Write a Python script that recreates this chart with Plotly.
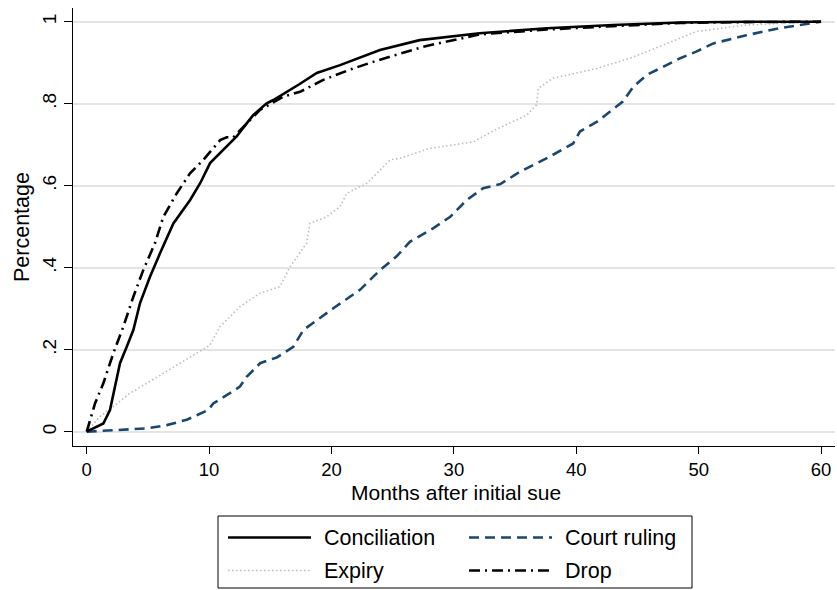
import plotly.graph_objects as go

# Cumulative share of cases closed, by months after the initial suit
conc_months = [0, 1.36, 1.9, 2.31, 2.72, 3.27, 3.81, 4.35, 5.17, 5.99, 6.81, 7.08, 8.45, 9.27,
               10.08, 11.7, 12.25, 13.07, 13.6, 14.7, 15.25, 17.4, 18.8, 20.7, 23.96, 27.2,
               32.1, 37.6, 43.0, 48.5, 53.9, 60]
conc_share = [0, 0.02, 0.053, 0.11, 0.167, 0.207, 0.248, 0.313, 0.378, 0.435, 0.492, 0.508,
              0.565, 0.606, 0.655, 0.703, 0.72, 0.752, 0.772, 0.801, 0.809, 0.848, 0.875,
              0.894, 0.931, 0.955, 0.972, 0.984, 0.992, 0.998, 1.0, 1.0]

court_months = [0, 3.13, 4.9, 6.54, 8.17, 9.93, 10.34, 11.7, 12.52, 13.07, 14.17, 15.52, 16.88,
                17.7, 18.79, 20.15, 22.33, 23.96, 25.3, 26.4, 28.3, 29.7, 31.05, 32.4, 33.8,
                35.4, 37.6, 39.75, 40.3, 41.7, 43.8, 44.66, 45.75, 48.5, 49.8, 51.2, 53.9,
                56.6, 60]
court_share = [0, 0.004, 0.008, 0.016, 0.029, 0.053, 0.069, 0.094, 0.11, 0.134, 0.167, 0.181,
               0.207, 0.248, 0.272, 0.301, 0.346, 0.394, 0.427, 0.463, 0.496, 0.524, 0.565,
               0.594, 0.604, 0.634, 0.667, 0.703, 0.732, 0.756, 0.805, 0.841, 0.87, 0.911,
               0.927, 0.947, 0.967, 0.984, 1.0]

expiry_months = [0, 1.09, 2.17, 3.54, 4.9, 6.26, 7.62, 8.99, 10.07, 10.89, 12.52, 14.17, 15.79,
                 16.61, 17.97, 18.24, 19.6, 20.7, 21.24, 22.9, 24.2, 24.8, 25.6, 28.05, 31.6,
                 33.5, 35.95, 36.76, 36.9, 38.1, 41.7, 44.4, 47.1, 49.8, 53.9, 60]
expiry_share = [0, 0.037, 0.061, 0.094, 0.118, 0.142, 0.167, 0.191, 0.211, 0.256, 0.305, 0.338,
                0.354, 0.402, 0.46, 0.508, 0.524, 0.549, 0.581, 0.606, 0.646, 0.663, 0.667,
                0.691, 0.707, 0.738, 0.772, 0.797, 0.838, 0.862, 0.886, 0.911, 0.943, 0.976,
                0.992, 1.0]

drop_months = [0, 0.27, 0.68, 1.36, 2.17, 2.99, 3.81, 4.62, 5.58, 6.26, 7.35, 8.44, 9.53, 10.9,
               11.44, 11.98, 12.8, 14.16, 16.06, 17.43, 19.33, 21.5, 23.4, 25.3, 27.5, 32.1,
               37.6, 43.0, 48.5, 53.9, 60]
drop_share = [0, 0.028, 0.069, 0.118, 0.191, 0.256, 0.329, 0.394, 0.46, 0.524, 0.581, 0.63,
              0.663, 0.711, 0.718, 0.718, 0.744, 0.785, 0.817, 0.829, 0.858, 0.883, 0.902,
              0.919, 0.939, 0.969, 0.981, 0.989, 0.997, 0.999, 1.0]

series_names = ["Conciliation", "Court ruling", "Expiry", "Drop"]
x_ticks = [0, 10, 20, 30, 40, 50, 60]
y_ticks = [0, 0.2, 0.4, 0.6, 0.8, 1.0]
y_tick_text = ["0", ".2", ".4", ".6", ".8", "1"]

FONT = "Liberation Sans, Arial, Helvetica, sans-serif"
NAVY = "#1a476f"

styles = {
    "Conciliation": dict(color="black", width=2.6, dash="solid"),
    "Court ruling": dict(color=NAVY, width=2.6, dash="10px,6px"),
    "Expiry": dict(color="#bcbcbc", width=1.6, dash="1.5px,2.5px"),
    "Drop": dict(color="black", width=2.6, dash="11px,5px,2px,5px"),
}
data = {
    "Conciliation": (conc_months, conc_share),
    "Court ruling": (court_months, court_share),
    "Expiry": (expiry_months, expiry_share),
    "Drop": (drop_months, drop_share),
}

fig = go.Figure()
for name in ["Expiry", "Court ruling", "Drop", "Conciliation"]:
    xs, ys = data[name]
    fig.add_trace(go.Scatter(x=xs, y=ys, mode="lines", name=name,
                             line=styles[name], showlegend=False, hoverinfo="skip"))

W, H = 837, 590
L, R, T, B = 73, 2, 8, 144
pw, ph = W - L - R, H - T - B


def px_x(x):
    return (x - L) / pw


def px_y(y):
    return (H - B - y) / ph


# Legend drawn below the plot: two columns, long line samples
shapes = [dict(type="rect", xref="paper", yref="paper",
               x0=px_x(218), x1=px_x(692), y0=px_y(588), y1=px_y(516),
               line=dict(color="black", width=1), fillcolor="white")]
annotations = []
slots = {"Conciliation": (228, 537.5), "Court ruling": (469, 537.5),
         "Expiry": (228, 570.5), "Drop": (469, 570.5)}
for name in series_names:
    x0, yy = slots[name]
    st = styles[name]
    shapes.append(dict(type="line", xref="paper", yref="paper",
                       x0=px_x(x0), x1=px_x(x0 + 83), y0=px_y(yy), y1=px_y(yy),
                       line=dict(color=st["color"], width=st["width"], dash=st["dash"])))
    annotations.append(dict(text=name, xref="paper", yref="paper", x=px_x(x0 + 94),
                            y=px_y(yy), xanchor="left", yanchor="middle", showarrow=False,
                            font=dict(family=FONT, size=21.5, color="black")))

# Axis titles
annotations.append(dict(text="Months after initial sue", xref="paper", yref="paper",
                        x=px_x(456), y=px_y(492), xanchor="center", yanchor="middle",
                        showarrow=False, font=dict(family=FONT, size=21, color="black")))
annotations.append(dict(text="Percentage", xref="paper", yref="paper", textangle=-90,
                        x=px_x(22), y=px_y(227), xanchor="center", yanchor="middle",
                        showarrow=False, font=dict(family=FONT, size=21.5, color="black")))

fig.update_layout(
    width=W, height=H,
    margin=dict(l=L, r=R, t=T, b=B, pad=0),
    paper_bgcolor="white", plot_bgcolor="white",
    font=dict(family=FONT, size=19, color="black"),
    shapes=shapes, annotations=annotations,
    xaxis=dict(range=[-1.12, 61.14], tickvals=x_ticks, ticks="outside", ticklen=7,
               tickwidth=1, tickcolor="black", showline=True, linecolor="black",
               linewidth=1, showgrid=False, zeroline=False,
               tickfont=dict(family=FONT, size=18.5, color="black")),
    yaxis=dict(range=[-0.0349, 1.0334], tickvals=y_ticks, ticktext=y_tick_text,
               tickangle=-90, ticks="outside", ticklen=8, tickwidth=1, tickcolor="black",
               showline=True, linecolor="black", linewidth=1, showgrid=True,
               gridcolor="#e4e4e4", gridwidth=1.6, zeroline=False,
               tickfont=dict(family=FONT, size=19, color="black")),
)

fig.write_html("out.html")
